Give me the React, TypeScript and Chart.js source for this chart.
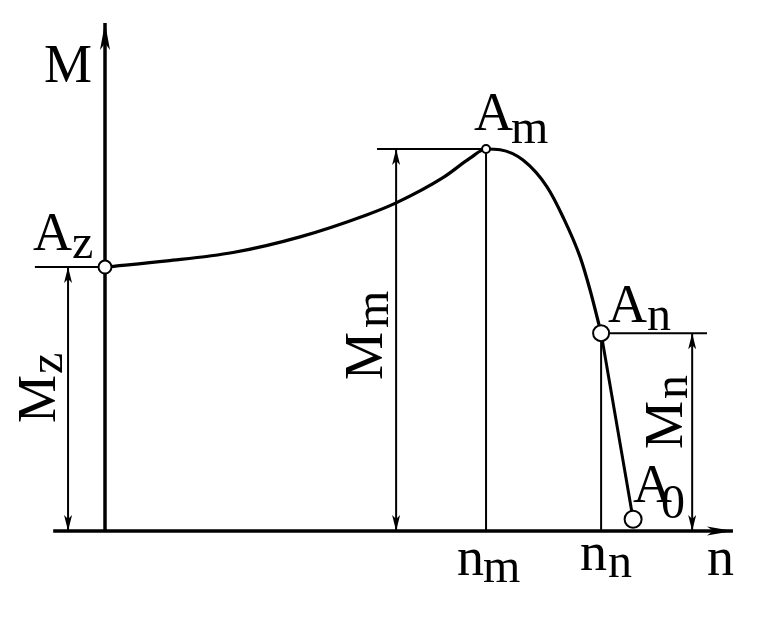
import React, { useEffect, useRef } from "react";
import { Chart, registerables } from "chart.js";

Chart.register(...registerables);

// ---- values (n = speed, horizontal; M = torque, vertical) ----
const nm = 100;
const nn = 130.2;
const n0 = 138.6;
const Mz = 69.1;
const Mm = 100;
const Mn = 51.8;
const M0 = 3.1;

// characteristic curve Az -> Am -> An
const curveN = [0, 16.3, 33.6, 51.2, 68.8, 76.4, 88.7, 95.8, 100, 103.7, 109.7, 116.0, 120.2, 124.7, 127.3, 130.2];
const curveM = [69.1, 70.7, 72.9, 77.0, 82.8, 85.9, 92.5, 97.6, 100, 99.8, 97.1, 90.1, 82.2, 71.7, 63.1, 51.8];
// straight tail An -> A0
const tailN = [nn, n0];
const tailM = [Mn, M0];

// marked points
const markerN = [0, nm, nn, n0];
const markerM = [Mz, Mm, Mn, M0];

// axes extents
const nAxis = [-13.6, 164.8];
const mAxis = [0, 133];

// guide line extents
const guideMzStart = -18.4;
const guideMmStart = 71.4;
const guideMnEnd = 158;

// dimension arrow positions (n) and the values they span
const dimN = [-9.7, 76.4, 154.1];
const dimM = [Mz, Mm, Mn];

const FAMILY = '"Liberation Serif", "Times New Roman", Times, serif';

const pts = (xs: number[], ys: number[]) => xs.map((x, i) => ({ x, y: ys[i] }));

function arrowHead(ctx: CanvasRenderingContext2D, tx: number, ty: number, dx: number, dy: number, len: number, hw: number) {
  const px = -dy, py = dx;
  ctx.beginPath();
  ctx.moveTo(tx, ty);
  ctx.lineTo(tx - dx * len + px * hw, ty - dy * len + py * hw);
  ctx.lineTo(tx - dx * len * 0.75, ty - dy * len * 0.75);
  ctx.lineTo(tx - dx * len - px * hw, ty - dy * len - py * hw);
  ctx.closePath();
  ctx.fill();
}

const annotPlugin = {
  id: "annot",
  afterDatasetsDraw(chart: any) {
    const { ctx, scales } = chart;
    const X = (v: number) => scales.x.getPixelForValue(v);
    const Y = (v: number) => scales.y.getPixelForValue(v);
    ctx.save();
    ctx.fillStyle = "#000";

    // axis arrows
    arrowHead(ctx, X(0), Y(mAxis[1]), 0, -1, 27, 5);
    arrowHead(ctx, X(nAxis[1]), Y(0), 1, 0, 26, 4.5);

    // dimension arrows
    dimN.forEach((n, i) => {
      arrowHead(ctx, X(n), Y(dimM[i]), 0, -1, 16, 4);
      arrowHead(ctx, X(n), Y(0), 0, 1, 16, 4);
    });

    ctx.textBaseline = "alphabetic";
    ctx.textAlign = "left";
    const main = `54px ${FAMILY}`;
    const sub = `48px ${FAMILY}`;
    const put = (ax: number, ay: number, t: string, dx: number, dy: number, f: string) => {
      ctx.font = f;
      ctx.fillText(t, ax + dx, ay + dy);
    };

    const lbl = (ax: number, ay: number, m: string, mdx: number, mdy: number, s: string, sdx: number, sdy: number) => {
      put(ax, ay, m, mdx, mdy, main);
      if (s) put(ax, ay, s, sdx, sdy, sub);
    };
    // point labels
    lbl(X(0), Y(Mz), "A", -72, -17, "z", -33, -9);
    lbl(X(nm), Y(Mm), "A", -12, -19, "m", 25, -6);
    lbl(X(nn), Y(Mn), "A", 7, -11, "n", 46, -3);
    lbl(X(n0), Y(M0), "A", 0, -17, "0", 28, -1);

    // axis titles and tick names
    lbl(X(0), Y(mAxis[1]), "M", -61, 59, "", 0, 0);
    lbl(X(nAxis[1]), Y(0), "n", -26, 44, "", 0, 0);
    lbl(X(nm), Y(0), "n", -29, 44, "m", -3, 51);
    lbl(X(nn), Y(0), "n", -21, 39, "n", 7, 46);

    // rotated dimension labels
    const rot = (ax: number, ay: number, m: string, mdx: number, mdy: number, s: string, sdx: number, sdy: number) => {
      ctx.save();
      ctx.translate(ax + mdx, ay + mdy);
      ctx.rotate(-Math.PI / 2);
      ctx.font = main;
      ctx.fillText(m, 0, 0);
      ctx.restore();
      ctx.save();
      ctx.translate(ax + sdx, ay + sdy);
      ctx.rotate(-Math.PI / 2);
      ctx.font = sub;
      ctx.fillText(s, 0, 0);
      ctx.restore();
    };
    const mid = (v: number) => (Y(0) + Y(v)) / 2;
    rot(X(dimN[0]), mid(Mz), "M", -13, 24, "z", -6, -25);
    rot(X(dimN[1]), mid(Mm), "M", -14, 40, "m", -8, -12);
    rot(X(dimN[2]), mid(Mn), "M", -10, 17, "n", -5, -33);

    ctx.restore();
  },
};

export default function App() {
  const ref = useRef<HTMLCanvasElement | null>(null);
  useEffect(() => {
    if (!ref.current) return;
    const line = (data: { x: number; y: number }[], width: number, extra: any = {}) => ({
      data,
      showLine: true,
      borderColor: "#000",
      borderWidth: width,
      pointRadius: 0,
      pointHoverRadius: 0,
      fill: false,
      order: 1,
      ...extra,
    });
    const chart = new Chart(ref.current, {
      type: "scatter",
      data: {
        datasets: [
          {
            data: pts(markerN, markerM),
            showLine: false,
            pointRadius: [6.5, 4, 8, 8.5],
            pointHoverRadius: [6.5, 4, 8, 8.5],
            pointBackgroundColor: "#fff",
            pointBorderColor: "#000",
            pointBorderWidth: 2,
            order: 0,
          } as any,
          line(pts(curveN, curveM), 3.2, { cubicInterpolationMode: "monotone" }),
          line(pts(tailN, tailM), 3),
          line(pts(nAxis, [0, 0]), 3.5),
          line(pts([0, 0], mAxis), 3.5),
          line(pts([guideMzStart, 0], [Mz, Mz]), 2),
          line(pts([guideMmStart, nm], [Mm, Mm]), 2),
          line(pts([nm, nm], [0, Mm]), 2),
          line(pts([nn, nn], [0, Mn]), 2),
          line(pts([nn, guideMnEnd], [Mn, Mn]), 2),
          ...dimN.map((n, i) => line(pts([n, n], [0, dimM[i]]), 2)),
        ],
      },
      options: {
        responsive: false,
        animation: false,
        events: [],
        layout: { padding: 0, autoPadding: false },
        plugins: { legend: { display: false }, tooltip: { enabled: false } },
        scales: {
          x: { type: "linear", display: false, min: -27.56, max: 174.0 },
          y: { type: "linear", display: false, min: -22.5, max: 139.0 },
        },
      } as any,
      plugins: [annotPlugin],
    });
    let alive = true;
    if ((document as any).fonts && (document as any).fonts.load) {
      Promise.all([
        (document as any).fonts.load(`54px "Liberation Serif"`),
        (document as any).fonts.load(`48px "Liberation Serif"`),
      ]).then(() => {
        if (alive) chart.update();
      }).catch(() => {});
    }
    return () => {
      alive = false;
      chart.destroy();
    };
  }, []);
  return (
    <div style={{ position: "absolute", left: 0, top: 0, width: 768, height: 617, background: "#fff" }}>
      <span style={{ fontFamily: '"Liberation Serif"', position: "absolute", left: -9999, top: 0 }}>Mn</span>
      <canvas ref={ref} width={768} height={617} />
    </div>
  );
}
